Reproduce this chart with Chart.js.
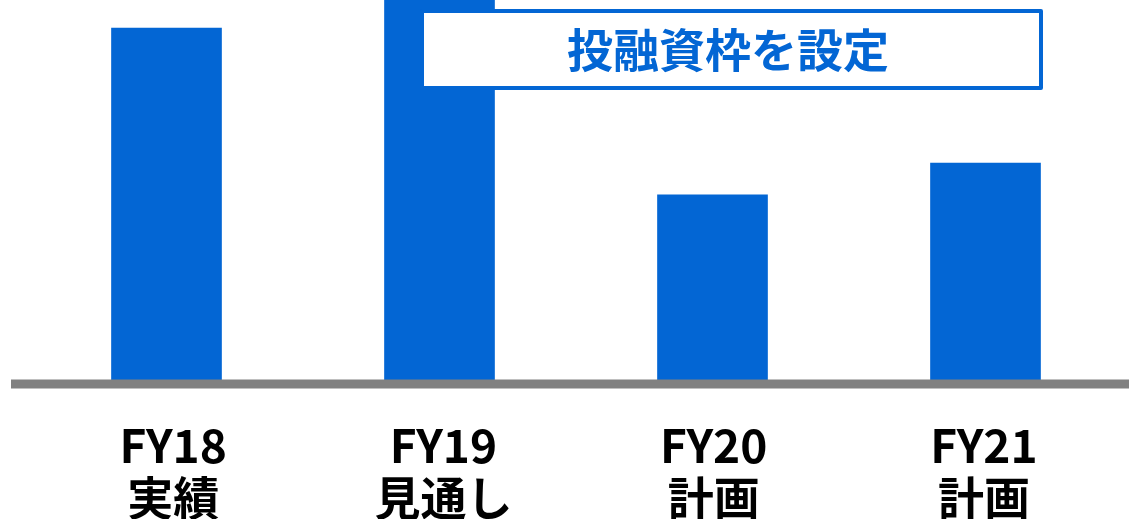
<!DOCTYPE html>
<html>
<head>
<meta charset="utf-8">
<script src="https://cdn.jsdelivr.net/npm/chart.js@4"></script>
<style>
  html, body { margin: 0; padding: 0; background: #fff; }
  #wrap { width: 1129px; height: 519px; }
</style>
</head>
<body>
<div id="wrap"><canvas id="chart"></canvas></div>
<script>
// Data
const years = ['FY18', 'FY19', 'FY20', 'FY21'];
const status = ['実績', '見通し', '計画', '計画'];
const amounts = [926, 1150, 487, 571];
const yMax = 1000;
const boxLabel = '投融資枠を設定';

const BLUE = '#0366D4';
const FONT = '"Noto Sans CJK JP", "Noto Sans", sans-serif';

// grey base line across the whole width
const baseLine = {
    id: 'baseLine',
    afterDatasetsDraw(chart) {
        const ctx = chart.ctx;
        const y = chart.scales.y.getPixelForValue(0);
        ctx.save();
        ctx.strokeStyle = '#808080';
        ctx.lineWidth = 9;
        ctx.beginPath();
        ctx.moveTo(11, y + 4);
        ctx.lineTo(chart.width, y + 4);
        ctx.stroke();
        ctx.restore();
    }
};

// framed note at top right
const noteBox = {
    id: 'noteBox',
    afterDatasetsDraw(chart) {
        const ctx = chart.ctx;
        ctx.save();
        ctx.fillStyle = '#fff';
        ctx.fillRect(422, 11, 619, 77);
        ctx.strokeStyle = BLUE;
        ctx.lineWidth = 4;
        ctx.lineJoin = 'round';
        ctx.strokeRect(422, 11, 619, 77);
        ctx.fillStyle = BLUE;
        ctx.font = 'bold 46px ' + FONT;
        ctx.textAlign = 'center';
        ctx.textBaseline = 'middle';
        ctx.fillText(boxLabel, 728, 50);
        ctx.restore();
    }
};

new Chart(document.getElementById('chart'), {
    type: 'bar',
    data: {
        labels: years,
        datasets: [{
            data: amounts,
            backgroundColor: BLUE,
            barThickness: 110
        }]
    },
    options: {
        responsive: true,
        maintainAspectRatio: false,
        animation: false,
        layout: { padding: { left: 30, right: 7, top: 0, bottom: 0 } },
        plugins: {
            legend: { display: false },
            tooltip: { enabled: false }
        },
        scales: {
            x: { display: false },
            // label axis: the text boxes sit on a slightly different grid than the bars
            xl: {
                type: 'linear',
                position: 'bottom',
                offset: false,
                min: -0.53,
                max: 3.511,
                grid: { display: false, drawTicks: false, offset: false },
                border: { display: false },
                afterBuildTicks(scale) {
                    scale.ticks = years.map((_, i) => ({ value: i }));
                },
                ticks: {
                    autoSkip: false,
                    maxRotation: 0,
                    color: '#000',
                    padding: 40,
                    font: { family: FONT, size: 46, weight: 'bold', lineHeight: 1.13 },
                    callback: (v) => [years[v], status[v]]
                },
                afterFit(scale) { scale.height = 139; }
            },
            y: {
                display: false,
                min: 0,
                max: yMax
            }
        }
    },
    plugins: [baseLine, noteBox]
});
</script>
</body>
</html>
